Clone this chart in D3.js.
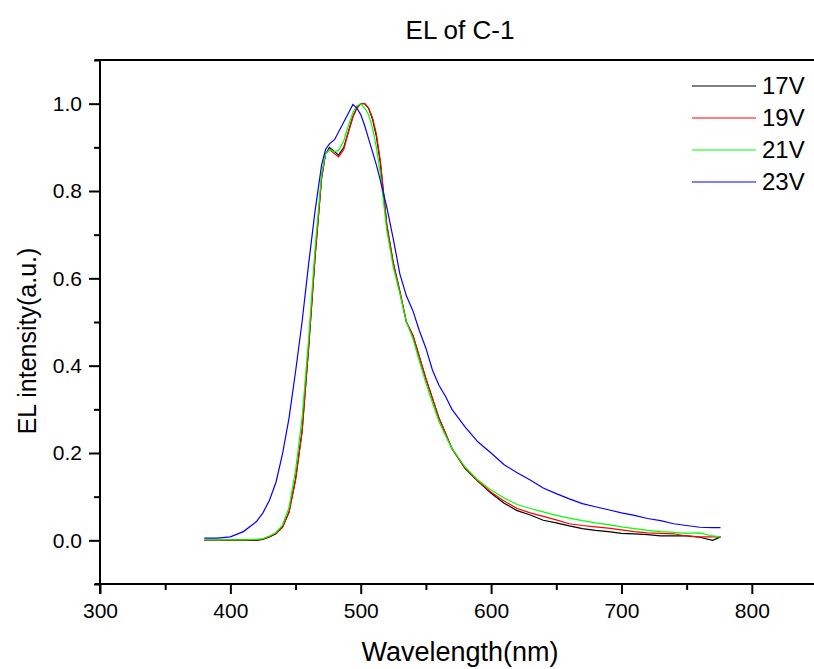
<!DOCTYPE html>
<html>
<head>
<meta charset="utf-8">
<script src="https://d3js.org/d3.v7.min.js"></script>
<style>
  body { margin: 0; background: #fff; }
  text { font-family: "Liberation Sans", Arial, sans-serif; }
</style>
</head>
<body>
<script>
var wavelength = [380, 390, 400, 410, 420, 425, 430, 435, 440, 445, 450, 455, 460, 465, 470, 473, 476, 480, 483, 487,
  490, 494, 497, 500, 503, 506, 509, 512, 515, 520, 525, 530, 535, 540, 545, 550, 555, 560, 565, 570,
  580, 590, 600, 610, 620, 630, 640, 650, 660, 670, 680, 690, 700, 710, 720, 730, 740, 750, 760, 770, 776];

var v17 = [0, 0, 0, 0, 0, 0.002, 0.008, 0.015, 0.03, 0.065, 0.14, 0.25, 0.44, 0.65, 0.83, 0.885, 0.9, 0.89, 0.882, 0.9,
  0.93, 0.97, 0.99, 1.0, 1.0, 0.99, 0.965, 0.925, 0.865, 0.72, 0.635, 0.57, 0.5, 0.47, 0.42, 0.37, 0.325, 0.28, 0.245, 0.21,
  0.165, 0.135, 0.108, 0.085, 0.068, 0.058, 0.046, 0.04, 0.033, 0.027, 0.023, 0.02, 0.016, 0.015, 0.013, 0.01, 0.01, 0.01, 0.007, 0.0, 0.008];

var v19 = [0, 0, 0.001, 0.001, 0.001, 0.003, 0.009, 0.016, 0.03, 0.064, 0.138, 0.248, 0.44, 0.65, 0.83, 0.885, 0.895, 0.885, 0.878, 0.895,
  0.93, 0.97, 0.99, 1.0, 1.0, 0.99, 0.968, 0.93, 0.87, 0.725, 0.635, 0.57, 0.5, 0.47, 0.42, 0.37, 0.325, 0.28, 0.245, 0.21,
  0.166, 0.136, 0.11, 0.09, 0.073, 0.063, 0.055, 0.047, 0.038, 0.034, 0.031, 0.028, 0.024, 0.02, 0.017, 0.016, 0.015, 0.01, 0.008, 0.008, 0.008];

var v21 = [0.001, 0.001, 0.001, 0.001, 0.002, 0.004, 0.01, 0.018, 0.035, 0.075, 0.16, 0.28, 0.46, 0.67, 0.84, 0.885, 0.895, 0.89, 0.893, 0.915,
  0.945, 0.98, 0.995, 1.0, 0.99, 0.975, 0.945, 0.9, 0.84, 0.71, 0.625, 0.565, 0.5, 0.462, 0.41, 0.36, 0.315, 0.272, 0.24, 0.21,
  0.168, 0.138, 0.115, 0.097, 0.082, 0.073, 0.065, 0.057, 0.051, 0.045, 0.04, 0.036, 0.031, 0.027, 0.023, 0.02, 0.018, 0.016, 0.017, 0.01, 0.008];

var v23 = [0.005, 0.005, 0.008, 0.02, 0.043, 0.063, 0.092, 0.133, 0.198, 0.28, 0.386, 0.5, 0.632, 0.755, 0.86, 0.895, 0.908, 0.918, 0.935, 0.958,
  0.975, 0.998, 0.99, 0.975, 0.95, 0.92, 0.89, 0.86, 0.825, 0.763, 0.69, 0.61, 0.56, 0.526, 0.48, 0.44, 0.39, 0.355, 0.33, 0.3,
  0.26, 0.225, 0.2, 0.173, 0.155, 0.138, 0.12, 0.107, 0.095, 0.084, 0.077, 0.07, 0.063, 0.057, 0.05, 0.045, 0.038, 0.034, 0.03, 0.029, 0.029];

var seriesNames = ["17V", "19V", "21V", "23V"];
var seriesColors = ["#000000", "#ff0000", "#00ff00", "#0000ff"];
var xTicks = [300, 400, 500, 600, 700, 800];
var xMinor = [350, 450, 550, 650, 750];
var yTicks = [0.0, 0.2, 0.4, 0.6, 0.8, 1.0];
var yMinor = [-0.1, 0.1, 0.3, 0.5, 0.7, 0.9, 1.1];

function drawChart() {
  var width = 814, height = 669;
  var left = 100, right = 817, top = 60, bottom = 584;

  var svg = d3.select("body").append("svg")
    .attr("width", width)
    .attr("height", height);

  var x = d3.scaleLinear().domain([300, 850]).range([left, right]);
  var y = d3.scaleLinear().domain([-0.1, 1.1]).range([bottom, top]);

  // title
  svg.append("text")
    .attr("x", 460)
    .attr("y", 39)
    .attr("text-anchor", "middle")
    .style("font-size", "26px")
    .text("EL of C-1");

  // frame lines (top and bottom extend a bit left of the y axis)
  svg.append("line")
    .attr("x1", left - 5).attr("x2", right)
    .attr("y1", top).attr("y2", top)
    .attr("stroke", "#000").attr("stroke-width", 2);

  svg.append("line")
    .attr("x1", left - 5).attr("x2", right)
    .attr("y1", bottom).attr("y2", bottom)
    .attr("stroke", "#000").attr("stroke-width", 2);

  // x axis
  var xAxis = svg.append("g")
    .attr("transform", "translate(0," + bottom + ")")
    .call(d3.axisBottom(x).tickValues(xTicks).tickSize(10).tickPadding(9).tickFormat(d3.format("d")));
  xAxis.select(".domain").remove();
  xAxis.selectAll("line").attr("stroke-width", 2);
  xAxis.selectAll("text").style("font-size", "21px").attr("fill", "#000");

  var xAxisMinor = svg.append("g")
    .attr("transform", "translate(0," + bottom + ")")
    .call(d3.axisBottom(x).tickValues(xMinor).tickSize(6).tickFormat(""));
  xAxisMinor.select(".domain").remove();
  xAxisMinor.selectAll("line").attr("stroke-width", 2);

  // y axis
  var yAxis = svg.append("g")
    .attr("transform", "translate(" + left + ",0)")
    .call(d3.axisLeft(y).tickValues(yTicks).tickSize(11).tickPadding(7).tickFormat(d3.format(".1f")));
  yAxis.select(".domain").remove();
  yAxis.selectAll("line").attr("stroke-width", 2);
  yAxis.selectAll("text").style("font-size", "21px").attr("fill", "#000");

  var yAxisMinor = svg.append("g")
    .attr("transform", "translate(" + left + ",0)")
    .call(d3.axisLeft(y).tickValues(yMinor).tickSize(6).tickFormat(""));
  yAxisMinor.select(".domain").remove();
  yAxisMinor.selectAll("line").attr("stroke-width", 2);

  svg.append("line")
    .attr("x1", left).attr("x2", left)
    .attr("y1", top).attr("y2", bottom + 10)
    .attr("stroke", "#000").attr("stroke-width", 2);

  // axis titles
  svg.append("text")
    .attr("x", 460)
    .attr("y", 661)
    .attr("text-anchor", "middle")
    .style("font-size", "27px")
    .text("Wavelength(nm)");

  svg.append("text")
    .attr("transform", "translate(36,341) rotate(-90)")
    .attr("text-anchor", "middle")
    .style("font-size", "25px")
    .text("EL intensity(a.u.)");

  // curves
  var allSeries = [v17, v19, v21, v23];
  var line = d3.line()
    .x(function (d, i) { return x(wavelength[i]); })
    .y(function (d) { return y(d); });

  allSeries.forEach(function (values, k) {
    svg.append("path")
      .datum(values)
      .attr("d", line)
      .attr("fill", "none")
      .attr("stroke", seriesColors[k])
      .attr("stroke-width", 1.2);
  });

  // legend
  var legend = svg.append("g");
  seriesNames.forEach(function (name, k) {
    var ly = 86 + k * 32;
    legend.append("line")
      .attr("x1", 692).attr("x2", 756)
      .attr("y1", ly).attr("y2", ly)
      .attr("stroke", seriesColors[k])
      .attr("stroke-width", 1.2);
    legend.append("text")
      .attr("x", 762)
      .attr("y", ly)
      .attr("dy", "0.35em")
      .style("font-size", "24px")
      .text(name);
  });
}

document.addEventListener("DOMContentLoaded", function (event) {
  drawChart();
});
</script>
</body>
</html>
